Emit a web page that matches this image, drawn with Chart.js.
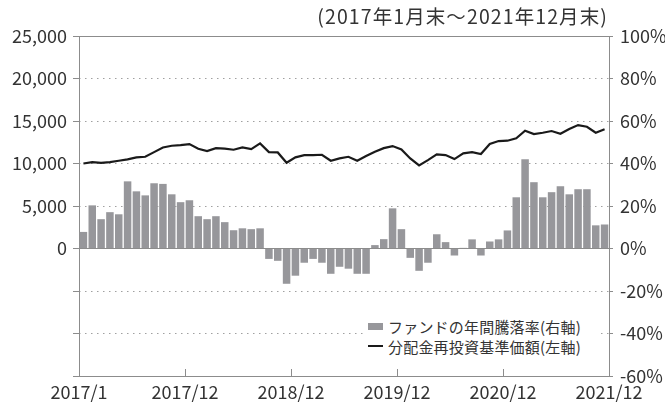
<!DOCTYPE html>
<html>
<head>
<meta charset="utf-8">
<script src="https://cdn.jsdelivr.net/npm/chart.js@4"></script>
<style>
  html, body { margin: 0; padding: 0; background: #fff; }
  #wrap { position: relative; width: 665px; height: 403px; font-family: "Noto Sans CJK JP", "Noto Sans", sans-serif; color: #333; }
  #title { position: absolute; right: 57px; top: 2px; font-size: 19.5px; white-space: nowrap; line-height: 28px; letter-spacing: 1.1px; }
  #legend { position: absolute; left: 364px; top: 314px; width: 234px; height: 46px; background: #fff; font-size: 15px; letter-spacing: 0.2px; }
  .row { position: absolute; left: 4px; height: 20px; display: flex; align-items: center; white-space: nowrap; }
  .sw { display: inline-block; width: 15px; margin-right: 5px; }
</style>
</head>
<body>
<div id="wrap">
  <canvas id="c" width="665" height="403"></canvas>
  <div id="title"></div>
  <div id="legend"></div>
</div>
<script>
const titleText = '(2017年1月末～2021年12月末)';
const barLabel = 'ファンドの年間騰落率(右軸)';
const lineLabel = '分配金再投資基準価額(左軸)';

const months = [
  '2017/1','2017/2','2017/3','2017/4','2017/5','2017/6','2017/7','2017/8','2017/9','2017/10','2017/11','2017/12',
  '2018/1','2018/2','2018/3','2018/4','2018/5','2018/6','2018/7','2018/8','2018/9','2018/10','2018/11','2018/12',
  '2019/1','2019/2','2019/3','2019/4','2019/5','2019/6','2019/7','2019/8','2019/9','2019/10','2019/11','2019/12',
  '2020/1','2020/2','2020/3','2020/4','2020/5','2020/6','2020/7','2020/8','2020/9','2020/10','2020/11','2020/12',
  '2021/1','2021/2','2021/3','2021/4','2021/5','2021/6','2021/7','2021/8','2021/9','2021/10','2021/11','2021/12'
];

// Annual return (%), right axis
const annualReturn = [
  7.8, 20.3, 13.8, 17.1, 16.1, 31.6, 26.9, 25.0, 30.7, 30.4, 25.5, 21.8,
  22.7, 15.2, 13.8, 15.2, 12.4, 8.6, 9.5, 9.1, 9.5, -4.9, -5.8, -16.6,
  -12.8, -6.7, -4.9, -6.7, -11.9, -8.6, -9.5, -11.9, -11.9, 1.6, 4.4, 18.9,
  9.1, -4.4, -10.5, -6.7, 6.7, 3.0, -3.3, 0.3, 4.3, -3.3, 3.3, 4.3,
  8.5, 24.1, 42.0, 31.2, 24.1, 26.5, 29.3, 25.5, 27.9, 27.9, 10.9, 11.3
];

// NAV with dividends reinvested, left axis
const navReinvested = [
  10000, 10160, 10080, 10160, 10320, 10480, 10720, 10790, 11340, 11890, 12090, 12170,
  12290, 11740, 11460, 11810, 11740, 11620, 11890, 11700, 12370, 11340, 11300, 10090,
  10720, 10990, 10990, 11030, 10320, 10600, 10790, 10320, 10870, 11380, 11810, 12050,
  11660, 10600, 9770, 10400, 11070, 10990, 10520, 11190, 11340, 11110, 12290, 12640,
  12680, 12960, 13850, 13460, 13620, 13820, 13500, 14050, 14520, 14320, 13620, 14020
];

const xTickLabels = ['2017/1', '2017/12', '2018/12', '2019/12', '2020/12', '2021/12'];
const leftTicks = { min: -15000, max: 25000, step: 5000 };
const rightTicks = { min: -60, max: 100, step: 20 };

const axisColor = '#8c8c8c';
const gridColor = '#a0a0a0';
const textColor = '#333333';
const barColor = '#97979b';
const lineColor = '#1a1a1a';
const tickFont = { family: '"Noto Sans CJK JP", "Noto Sans", sans-serif', size: 18 };

const chart = new Chart(document.getElementById('c'), {
  data: {
    labels: months,
    datasets: [
      {
        type: 'bar', label: barLabel, data: annualReturn,
        backgroundColor: barColor, yAxisID: 'y1', xAxisID: 'x',
        barPercentage: 1.0, categoryPercentage: 0.85, order: 2
      },
      {
        type: 'line', label: lineLabel, data: navReinvested,
        borderColor: lineColor, borderWidth: 2.2, pointRadius: 0, tension: 0,
        yAxisID: 'y', xAxisID: 'x', order: 1
      }
    ]
  },
  options: {
    responsive: false,
    animation: false,
    layout: { padding: { top: 36, left: 0, right: 0, bottom: 0 } },
    plugins: { legend: { display: false }, tooltip: { enabled: false }, title: { display: false } },
    scales: {
      x: { type: 'category', display: false, offset: true },
      x2: {
        type: 'linear', position: 'bottom', min: 0, max: 60,
        afterBuildTicks: (s) => { s.ticks = xTickLabels.map((_, i) => ({ value: i * 12 })); },
        afterFit: (s) => { s.height = 27; },
        ticks: {
          color: textColor, font: tickFont, padding: 12, maxRotation: 0, autoSkip: false,
          callback: (v) => xTickLabels[Math.round(v / 12)]
        },
        grid: { drawOnChartArea: false, color: axisColor, tickLength: -7 },
        border: { color: axisColor, width: 1 }
      },
      y: {
        type: 'linear', position: 'left',
        min: leftTicks.min, max: leftTicks.max,
        afterFit: (s) => { s.width = 79; },
        ticks: {
          stepSize: leftTicks.step, color: textColor, font: tickFont, padding: 6,
          callback: (v) => v >= 0 ? v.toLocaleString('en-US') : ''
        },
        grid: { drawOnChartArea: false, color: axisColor, tickLength: 6 },
        border: { color: axisColor, width: 1 }
      },
      y1: {
        type: 'linear', position: 'right',
        min: rightTicks.min, max: rightTicks.max,
        afterFit: (s) => { s.width = 56; },
        ticks: {
          stepSize: rightTicks.step, color: textColor, font: tickFont, padding: 7,
          callback: (v) => v + '%'
        },
        grid: {
          drawOnChartArea: true,
          color: (c) => (c.tick && (c.tick.value === 0 || c.tick.value === 100 || c.tick.value === -60)) ? axisColor : gridColor,
          tickColor: axisColor, tickLength: 4, lineWidth: 1
        },
        border: {
          color: axisColor, width: 1,
          dash: (c) => (c.tick && (c.tick.value === 0 || c.tick.value === 100 || c.tick.value === -60)) ? [] : [1.5, 4.5]
        }
      }
    }
  }
});

// Title and legend as HTML text
document.getElementById('title').textContent = titleText;
const legend = document.getElementById('legend');
chart.data.datasets.forEach((ds, i) => {
  const row = document.createElement('div');
  row.className = 'row';
  row.style.top = (i === 0 ? 2 : 22) + 'px';
  const sw = document.createElement('span');
  sw.className = 'sw';
  if (ds.type === 'bar') { sw.style.height = '7px'; sw.style.background = ds.backgroundColor; }
  else { sw.style.height = '2.5px'; sw.style.background = ds.borderColor; }
  const tx = document.createElement('span');
  tx.textContent = ds.label;
  row.appendChild(sw); row.appendChild(tx);
  legend.appendChild(row);
});
</script>
</body>
</html>
